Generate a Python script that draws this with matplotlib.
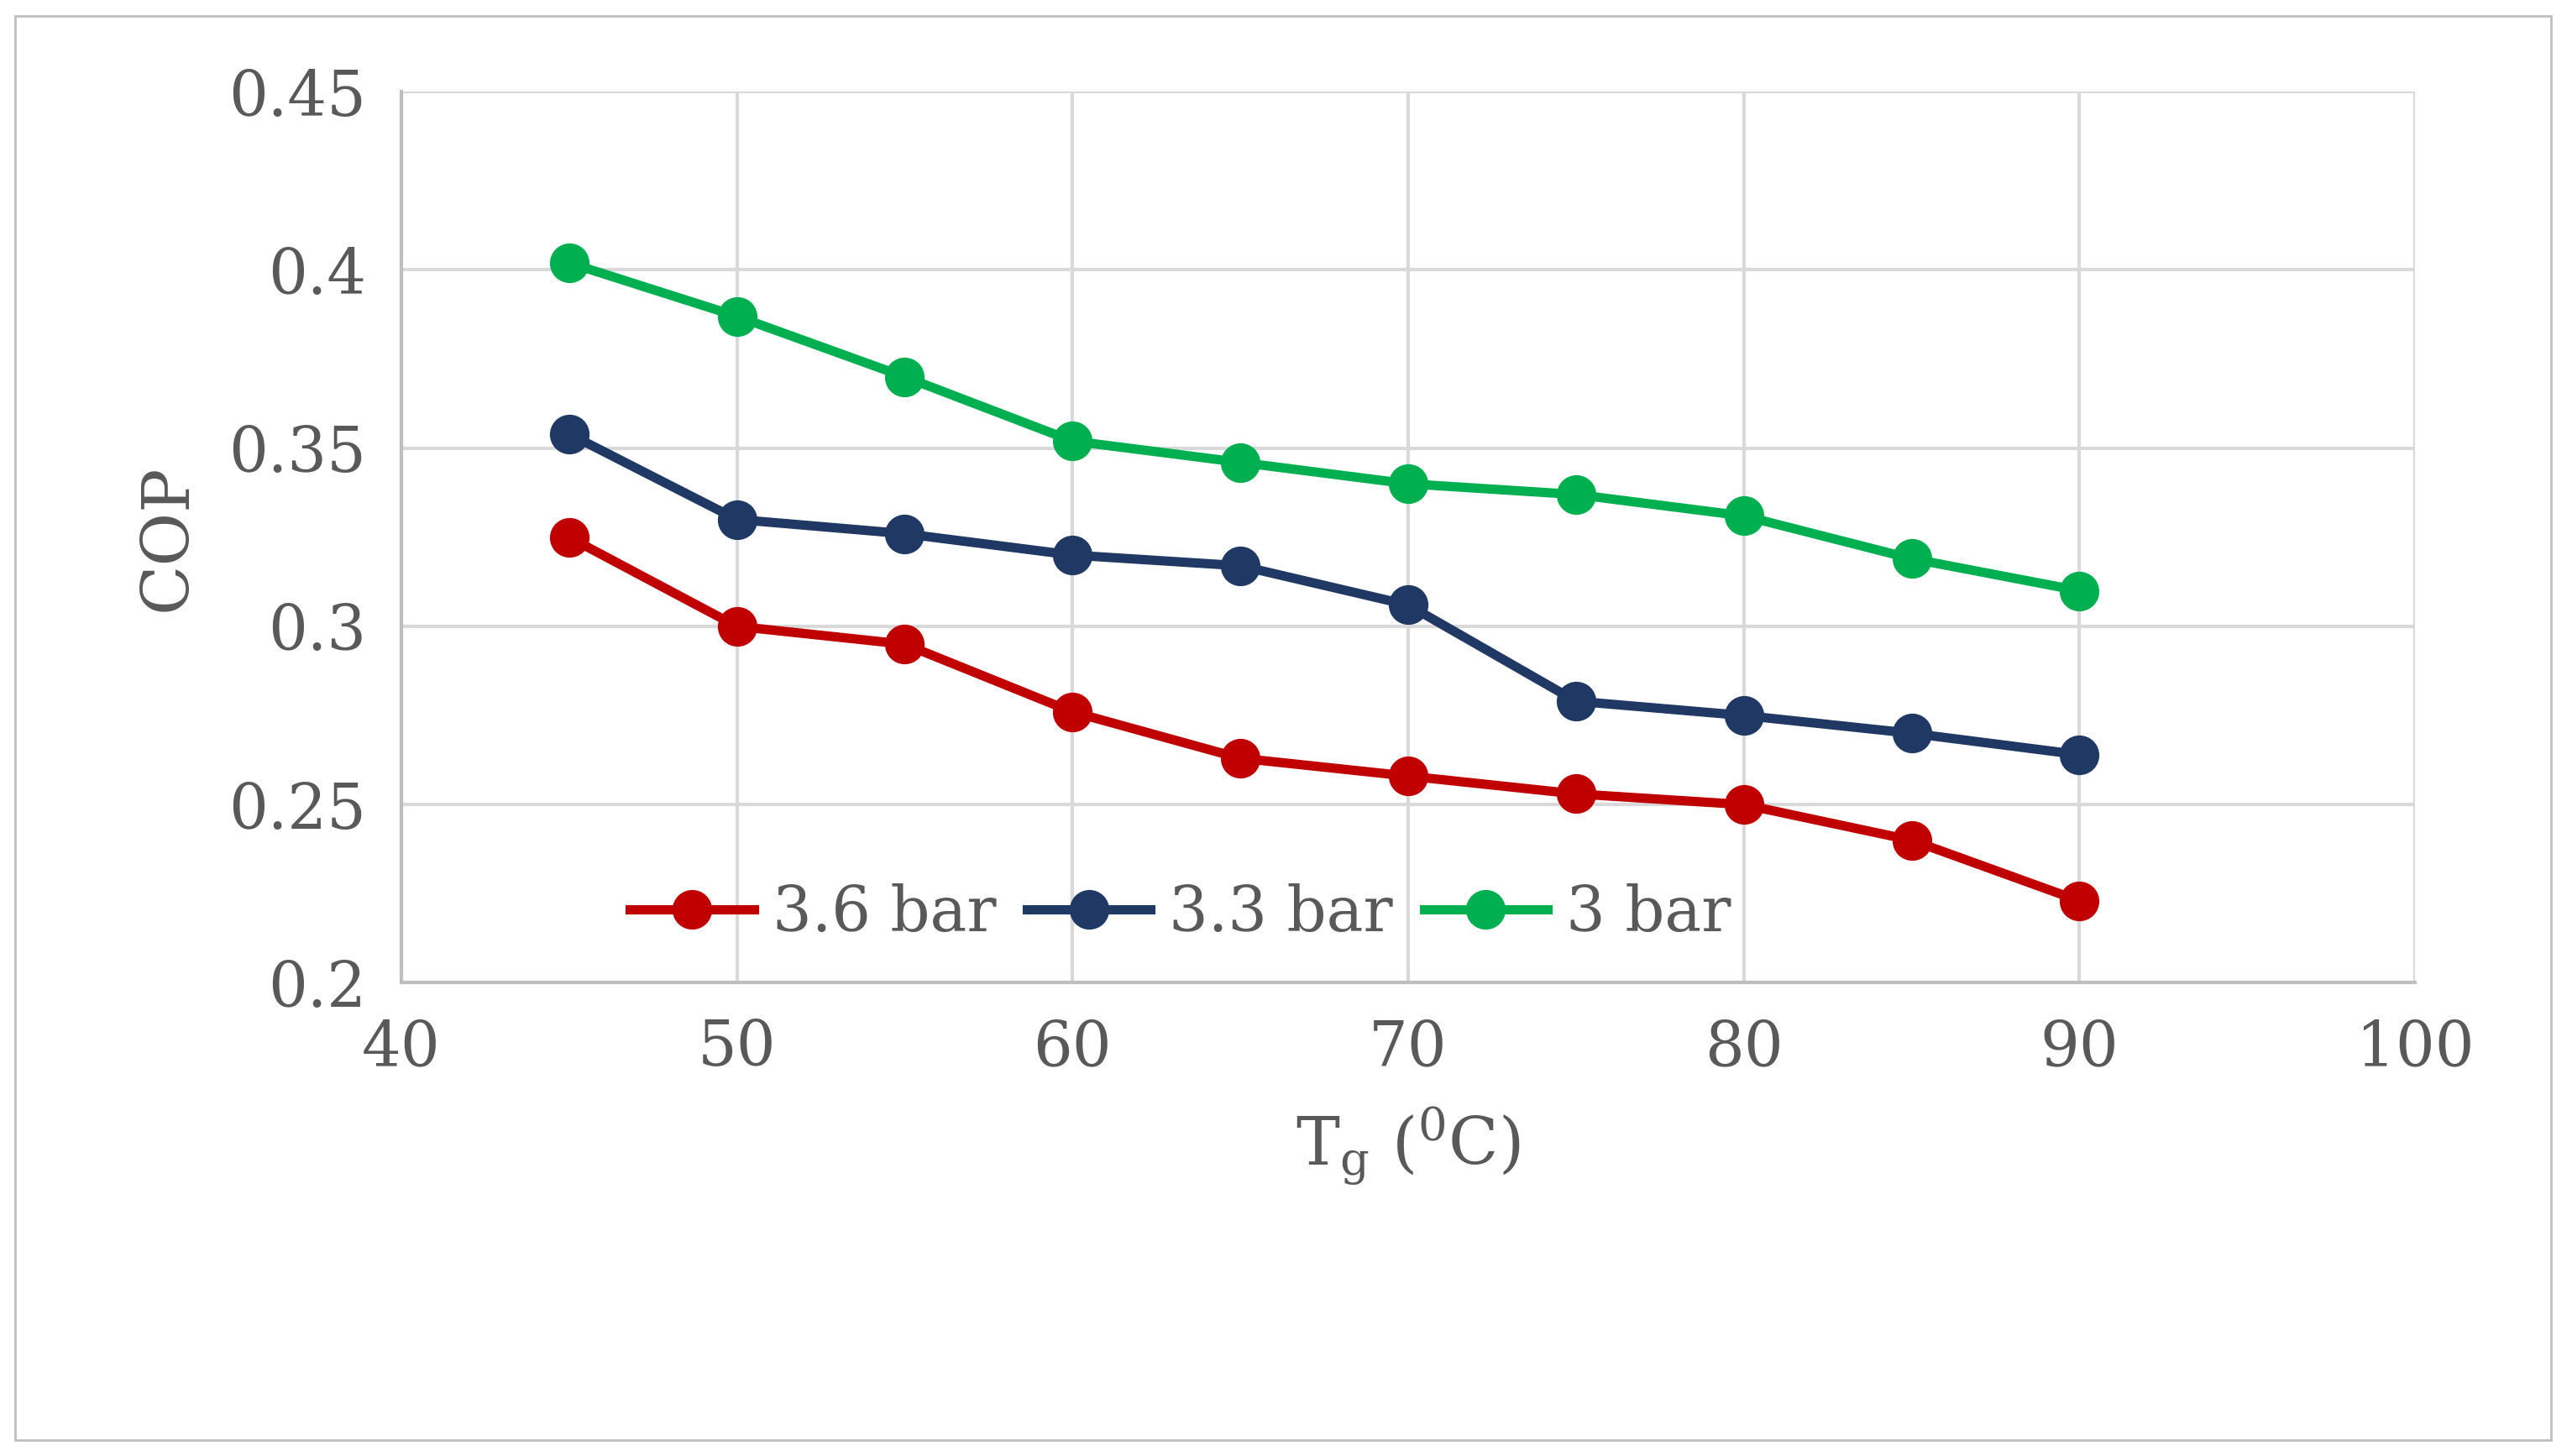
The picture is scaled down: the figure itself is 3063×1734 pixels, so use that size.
import matplotlib
matplotlib.use("Agg")
import matplotlib.pyplot as plt
from matplotlib.patches import Rectangle

plt.rcParams['font.family'] = ['DejaVu Serif']
plt.rcParams['mathtext.fontset'] = 'dejavuserif'

tg = [45, 50, 55, 60, 65, 70, 75, 80, 85, 90]
cop_36 = [0.325, 0.300, 0.295, 0.276, 0.263, 0.258, 0.253, 0.250, 0.240, 0.223]
cop_33 = [0.354, 0.330, 0.326, 0.320, 0.317, 0.306, 0.279, 0.275, 0.270, 0.264]
cop_30 = [0.402, 0.387, 0.370, 0.352, 0.346, 0.340, 0.337, 0.331, 0.319, 0.310]
labels = ['3.6 bar', '3.3 bar', '3 bar']
colors = ['#C00000', '#203864', '#00B050']

fig = plt.figure(figsize=(30.63, 17.34), dpi=100)
ax = fig.add_axes([0.156, 0.325, 0.783, 0.612])
fig.patches.append(Rectangle((0.006, 0.011), 0.986, 0.978, transform=fig.transFigure,
                             fill=False, edgecolor='#BFBFBF', linewidth=2))

for y, lab, c in zip([cop_36, cop_33, cop_30], labels, colors):
    ax.plot(tg, y, color=c, linewidth=8, marker='o', markersize=33, label=lab)

ax.set_xlim(40, 100)
ax.set_ylim(0.2, 0.45)
ax.set_xticks(range(40, 101, 10))
ax.set_yticks([0.2, 0.25, 0.3, 0.35, 0.4, 0.45])
ax.set_yticklabels(['0.2', '0.25', '0.3', '0.35', '0.4', '0.45'])
ax.grid(True, color='#D9D9D9', linewidth=3)
ax.set_axisbelow(True)
for s in ['top', 'right']:
    ax.spines[s].set_visible(False)
for s in ['left', 'bottom']:
    ax.spines[s].set_color('#BFBFBF')
    ax.spines[s].set_linewidth(3)
ax.tick_params(length=0, labelsize=53, labelcolor='#595959', pad=30)
ax.set_xlabel(r'T$_{\mathregular{g}}$ ($^{\mathregular{0}}$C)', fontsize=56, color='#595959', labelpad=22)
ax.set_ylabel('COP', fontsize=56, color='#595959', labelpad=25)
ax.legend(loc='center', bbox_to_anchor=(0.387, 0.077), ncol=3, frameon=False,
          fontsize=53, labelcolor='#595959', handlelength=2.0, columnspacing=0.5, handletextpad=0.3)

fig.savefig('out.png', dpi=100)
